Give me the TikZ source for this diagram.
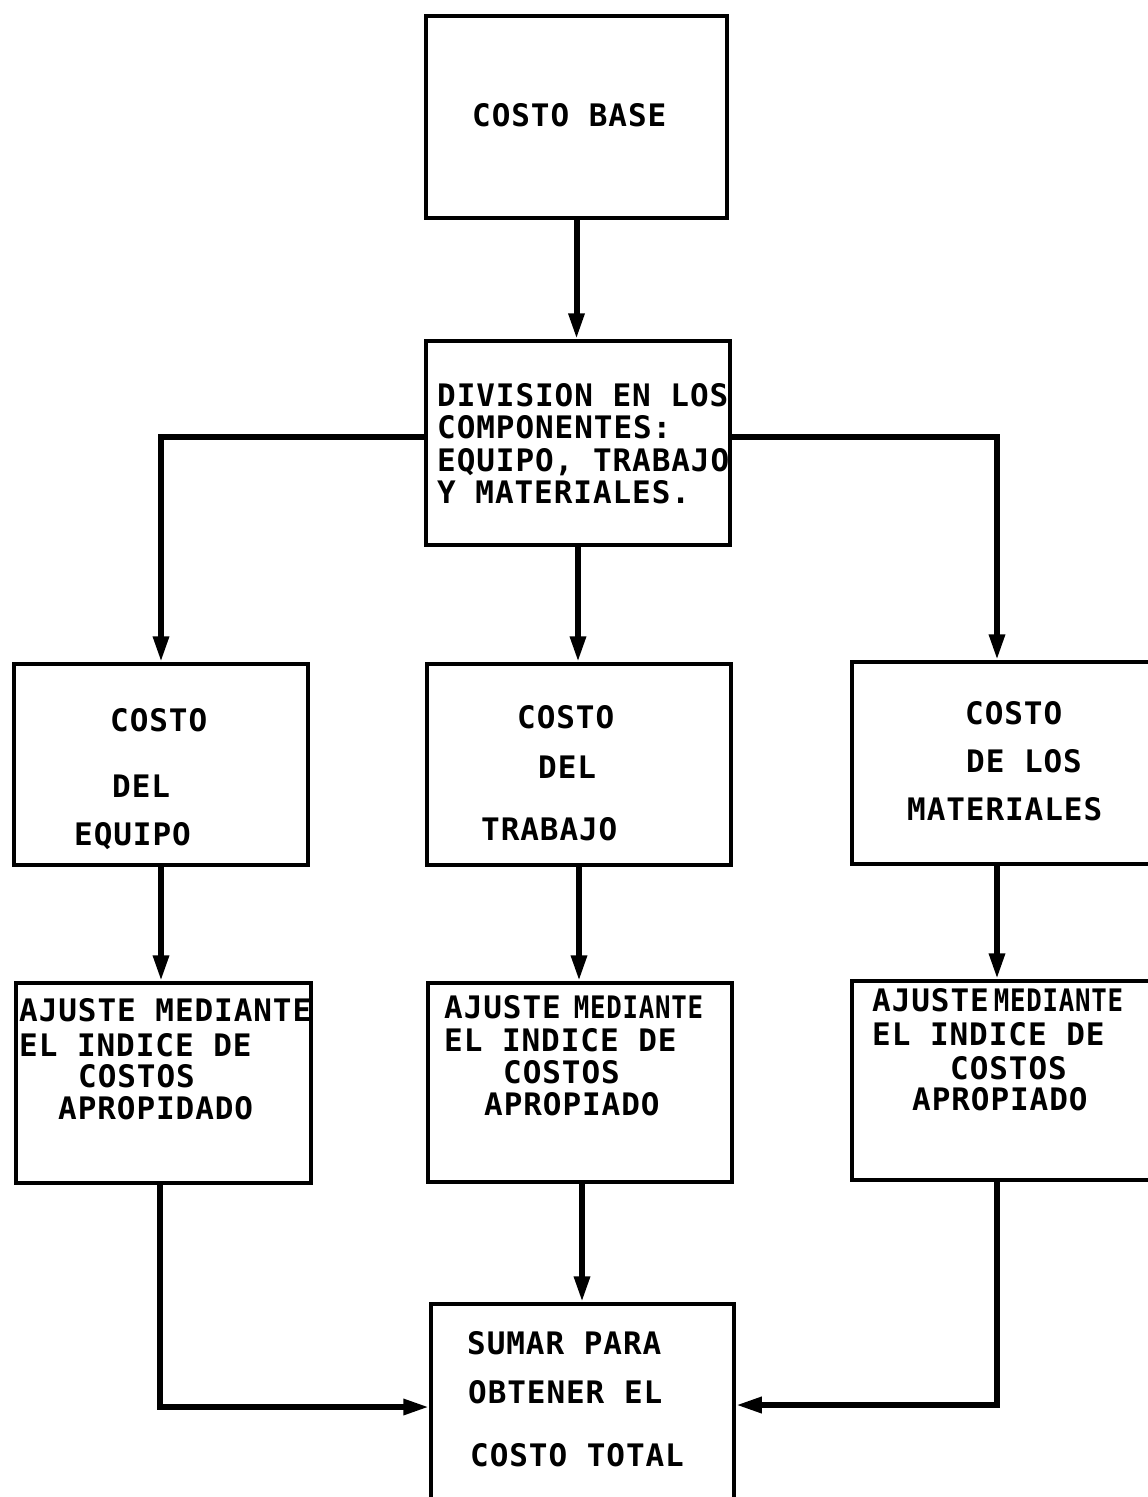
\documentclass[tikz,border=0pt]{standalone}
\usepackage{fontspec}
\usepackage{graphicx}
\usetikzlibrary{arrows.meta}
\newfontfamily\tw{DejaVu Sans Mono}[LetterSpace=3]
\newcommand{\squeezed}[1]{\scalebox{0.83}[1]{#1}}
\tikzset{
  box/.style={draw, line width=3.5pt, inner sep=0pt},
  conn/.style={line width=6pt, line join=miter, -{Triangle[width=15pt,length=26pt]}},
  txt/.style={anchor=base west, inner sep=0pt, font=\tw\bfseries\fontsize{31}{34}\selectfont},
}
\begin{document}
\begin{tikzpicture}[x=1pt,y=-1pt]
\useasboundingbox (0,0) rectangle (1148,1497);
% boxes
\node[box, minimum width=301pt, minimum height=202pt] (b1) at (576.5,117) {};
\node[box, minimum width=304pt, minimum height=204pt] (b2) at (578,443) {};
\node[box, minimum width=294pt, minimum height=201pt] (b3) at (161,764.5) {};
\node[box, minimum width=304pt, minimum height=201pt] (b4) at (579,764.5) {};
\node[box, minimum width=308pt, minimum height=202pt] (b5) at (1006,763) {};
\node[box, minimum width=295pt, minimum height=200pt] (b6) at (163.5,1083) {};
\node[box, minimum width=304pt, minimum height=199pt] (b7) at (580,1082.5) {};
\node[box, minimum width=308pt, minimum height=199pt] (b8) at (1006,1080.5) {};
\node[box, minimum width=303pt, minimum height=206pt] (b9) at (582.5,1407) {};
% texts
\node[txt] (t1) at (472,126.5) {COSTO BASE};
\node[txt] (t2a) at (437,406.5) {DIVISION EN LOS};
\node[txt] (t2b) at (437,438.5) {COMPONENTES:};
\node[txt] (t2c) at (437,471.5) {EQUIPO, TRABAJO};
\node[txt] (t2d) at (437,503.5) {Y MATERIALES.};
\node[txt] (t3a) at (110,731.5) {COSTO};
\node[txt] (t3b) at (112,797.5) {DEL};
\node[txt] (t3c) at (74,845.5) {EQUIPO};
\node[txt] (t4a) at (517,728.5) {COSTO};
\node[txt] (t4b) at (538,778.5) {DEL};
\node[txt] (t4c) at (481,840.5) {TRABAJO};
\node[txt] (t5a) at (965,724.5) {COSTO};
\node[txt] (t5b) at (966,772.5) {DE LOS};
\node[txt] (t5c) at (907,820.5) {MATERIALES};
\node[txt] (t6a) at (19,1021.5) {AJUSTE MEDIANTE};
\node[txt] (t6b) at (19,1056.5) {EL INDICE DE};
\node[txt] (t6c) at (78,1087.5) {COSTOS};
\node[txt] (t6d) at (58,1119.5) {APROPIDADO};
\node[txt] (t7a) at (444,1018.5) {AJUSTE\hspace{13pt}\squeezed{MEDIANTE}};
\node[txt] (t7b) at (444,1051.5) {EL INDICE DE};
\node[txt] (t7c) at (503,1083.5) {COSTOS};
\node[txt] (t7d) at (484,1115.5) {APROPIADO};
\node[txt] (t8a) at (872,1011.5) {AJUSTE\hspace{5pt}\squeezed{MEDIANTE}};
\node[txt] (t8b) at (872,1045.5) {EL INDICE DE};
\node[txt] (t8c) at (950,1079.5) {COSTOS};
\node[txt] (t8d) at (912,1110.5) {APROPIADO};
\node[txt] (t9a) at (467,1354.5) {SUMAR PARA};
\node[txt] (t9b) at (468,1403.5) {OBTENER EL};
\node[txt] (t9c) at (470,1466.5) {COSTO TOTAL};
% connectors
\draw[conn] (b1.south) -- (b1.south |- b2.north);
\draw[conn] ([yshift=6pt]b2.west) -| (b3.north);
\draw[conn] ([yshift=6pt]b2.east) -| ([xshift=-9pt]b5.north);
\draw[conn] (b2.south) -- (b2.south |- b4.north);
\draw[conn] (b3.south) -- (b3.south |- b6.north);
\draw[conn] (b4.south) -- (b4.south |- b7.north);
\draw[conn] ([xshift=-9pt]b5.south) -- ([xshift=-9pt]b8.north);
\draw[conn] ([xshift=-3.5pt]b6.south) |- (b9.west);
\draw[conn] ([xshift=2pt]b7.south) -- ([xshift=2pt]b7.south |- b9.north);
\draw[conn] ([xshift=-9pt]b8.south) |- ([yshift=2pt]b9.east);
\end{tikzpicture}
\end{document}
